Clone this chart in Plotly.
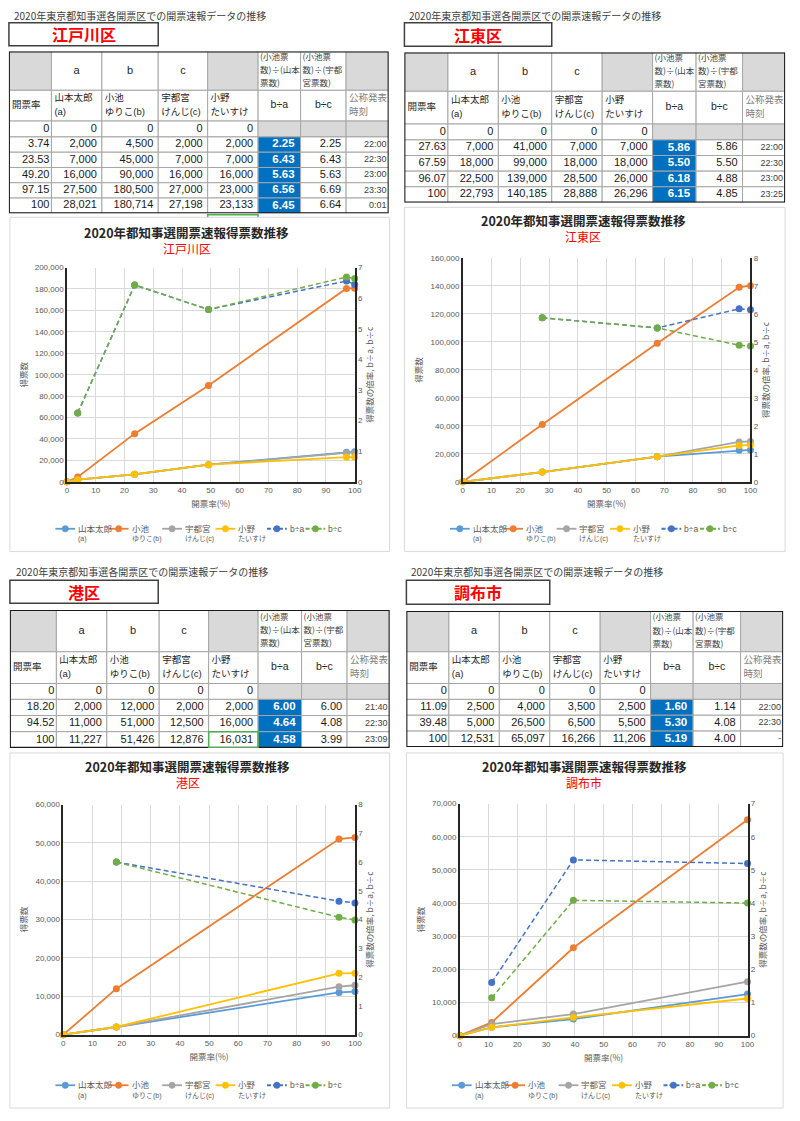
import plotly.graph_objects as go

W, H = 800, 1121
CJK = "Noto Sans CJK JP"
NUMF = "Liberation Sans, Noto Sans CJK JP"

# ---------------- text ----------------
PAGE_HEADER = "2020年東京都知事選各開票区での開票速報データの推移"
CHART_TITLE = "2020年都知事選開票速報得票数推移"
X_TITLE = "開票率(%)"
Y_TITLE = "得票数"
Y2_TITLE = "得票数の倍率, b÷a, b÷c"
SERIES_NAMES = ["山本太郎", "小池", "宇都宮", "小野", "b÷a", "b÷c"]
SERIES_SUBS = ["(a)", "ゆりこ(b)", "けんじ(c)", "たいすけ", "", ""]
TABLE_ROW1 = ["", "a", "b", "c", "", "(小池票<br>数)÷(山本<br>票数)", "(小池票<br>数)÷(宇都<br>宮票数)", ""]
TABLE_ROW2 = ["開票率", "山本太郎<br>(a)", "小池<br>ゆりこ(b)", "宇都宮<br>けんじ(c)", "小野<br>たいすけ", "b÷a", "b÷c", "公称発表<br>時刻"]

# ---------------- data ----------------
EDOGAWA_RATE = [0, 3.74, 23.53, 49.20, 97.15, 100]
EDOGAWA_YAMAMOTO = [0, 2000, 7000, 16000, 27500, 28021]
EDOGAWA_KOIKE = [0, 4500, 45000, 90000, 180500, 180714]
EDOGAWA_UTSUNOMIYA = [0, 2000, 7000, 16000, 27000, 27198]
EDOGAWA_ONO = [0, 2000, 7000, 16000, 23000, 23133]
EDOGAWA_B_DIV_A = [2.25, 6.43, 5.63, 6.56, 6.45]
EDOGAWA_B_DIV_C = [2.25, 6.43, 5.63, 6.69, 6.64]
EDOGAWA_TIME = ["22:00", "22:30", "23:00", "23:30", "0:01"]
EDOGAWA_AXES = (200000, 20000, 7)

KOTO_RATE = [0, 27.63, 67.59, 96.07, 100]
KOTO_YAMAMOTO = [0, 7000, 18000, 22500, 22793]
KOTO_KOIKE = [0, 41000, 99000, 139000, 140185]
KOTO_UTSUNOMIYA = [0, 7000, 18000, 28500, 28888]
KOTO_ONO = [0, 7000, 18000, 26000, 26296]
KOTO_B_DIV_A = [5.86, 5.50, 6.18, 6.15]
KOTO_B_DIV_C = [5.86, 5.50, 4.88, 4.85]
KOTO_TIME = ["22:00", "22:30", "23:00", "23:25"]
KOTO_AXES = (160000, 20000, 8)

MINATO_RATE = [0, 18.20, 94.52, 100]
MINATO_YAMAMOTO = [0, 2000, 11000, 11227]
MINATO_KOIKE = [0, 12000, 51000, 51426]
MINATO_UTSUNOMIYA = [0, 2000, 12500, 12876]
MINATO_ONO = [0, 2000, 16000, 16031]
MINATO_B_DIV_A = [6.00, 4.64, 4.58]
MINATO_B_DIV_C = [6.00, 4.08, 3.99]
MINATO_TIME = ["21:40", "22:30", "23:09"]
MINATO_AXES = (60000, 10000, 8)

CHOFU_RATE = [0, 11.09, 39.48, 100]
CHOFU_YAMAMOTO = [0, 2500, 5000, 12531]
CHOFU_KOIKE = [0, 4000, 26500, 65097]
CHOFU_UTSUNOMIYA = [0, 3500, 6500, 16266]
CHOFU_ONO = [0, 2500, 5500, 11206]
CHOFU_B_DIV_A = [1.60, 5.30, 5.19]
CHOFU_B_DIV_C = [1.14, 4.08, 4.00]
CHOFU_TIME = ["22:00", "22:30", "-"]
CHOFU_AXES = (70000, 10000, 7)

DATA = [
    dict(name="江戸川区", rate=EDOGAWA_RATE,
         votes=[EDOGAWA_YAMAMOTO, EDOGAWA_KOIKE, EDOGAWA_UTSUNOMIYA, EDOGAWA_ONO],
         ratios=[EDOGAWA_B_DIV_A, EDOGAWA_B_DIV_C], time=EDOGAWA_TIME, axes=EDOGAWA_AXES),
    dict(name="江東区", rate=KOTO_RATE,
         votes=[KOTO_YAMAMOTO, KOTO_KOIKE, KOTO_UTSUNOMIYA, KOTO_ONO],
         ratios=[KOTO_B_DIV_A, KOTO_B_DIV_C], time=KOTO_TIME, axes=KOTO_AXES),
    dict(name="港区", rate=MINATO_RATE,
         votes=[MINATO_YAMAMOTO, MINATO_KOIKE, MINATO_UTSUNOMIYA, MINATO_ONO],
         ratios=[MINATO_B_DIV_A, MINATO_B_DIV_C], time=MINATO_TIME, axes=MINATO_AXES),
    dict(name="調布市", rate=CHOFU_RATE,
         votes=[CHOFU_YAMAMOTO, CHOFU_KOIKE, CHOFU_UTSUNOMIYA, CHOFU_ONO],
         ratios=[CHOFU_B_DIV_A, CHOFU_B_DIV_C], time=CHOFU_TIME, axes=CHOFU_AXES),
]

# ---------------- layout geometry (pixels) ----------------
GEOM = [
    dict(header=(10, 11.7), tbox=(7, 19, 158, 42), cols=[7, 50, 101, 158, 208, 259, 302, 348, 391],
         top=48, h1=39, h2=31, h0=16, hd=15.4, sel="below",
         frame=(8, 215, 392, 552), plot=(65.7, 265.7, 356.7, 481.7), tx=187, ty=230, sy=246),
    dict(header=(410, 11.7), tbox=(407, 19, 556, 42.5), cols=[407, 451, 502, 556, 607, 658, 702, 749, 792],
         top=49, h1=39, h2=33, h0=16, hd=15.75, sel=None,
         frame=(407, 205, 792, 552), plot=(466, 256, 757, 481.7), tx=588, ty=218, sy=234),
    dict(header=(12, 571.7), tbox=(8, 581, 158, 604), cols=[8, 55, 106, 159, 209, 259, 303, 349, 392],
         top=611, h1=42, h2=32, h0=16, hd=16.3, sel="last",
         frame=(8, 755, 392, 1113), plot=(62, 807, 357, 1039), tx=188, ty=769, sy=785),
    dict(header=(412, 571.7), tbox=(409, 581, 554, 605), cols=[409, 452, 503, 554, 605, 656, 699, 747, 790],
         top=612, h1=41, h2=32, h0=16, hd=16, sel=None,
         frame=(409, 755, 790, 1113), plot=(463, 806, 754, 1040), tx=589, ty=769, sy=785),
]
LEGEND_OFFSETS = [46, 100, 154, 208, 260, 299]   # from frame left
COLORS = ["#5B9BD5", "#ED7D31", "#A5A5A5", "#FFC000", "#4472C4", "#70AD47"]
GRAY_FILL = "#D9D9D9"
BLUE_FILL = "#0070C0"
GRID = "#D9D9D9"
AXLINE = "#262626"
TXT = "#595959"


def px(x):
    return x / W


def py(y):
    return 1 - y / H


def axkey(letter, n):
    return f"{letter}axis" if n == 1 else f"{letter}axis{n}"


def axref(letter, n):
    return letter if n == 1 else f"{letter}{n}"


def fmt_rate(r):
    return str(int(r)) if float(r).is_integer() else f"{r:.2f}"


fig = go.Figure()
shapes, annotations, axes = [], [], {}

for k, (d, g) in enumerate(zip(DATA, GEOM)):
    xa, yl, yr = k + 1, 2 * k + 1, 2 * k + 2
    xt, yt = 5 + k, 9 + k

    # ---- page header & district box ----
    annotations.append(dict(text=PAGE_HEADER, x=px(g["header"][0]), y=py(g["header"][1]),
                            xref="paper", yref="paper", xanchor="left", yanchor="middle",
                            showarrow=False, font=dict(family=CJK, size=10, color="#404040")))
    bx0, by0, bx1, by1 = g["tbox"]
    shapes.append(dict(type="rect", xref="paper", yref="paper", x0=px(bx0), x1=px(bx1),
                       y0=py(by1), y1=py(by0), line=dict(color="#404040", width=1.5),
                       fillcolor="white", layer="below"))
    annotations.append(dict(text=f"<b>{d['name']}</b>", x=px((bx0 + bx1) / 2), y=py((by0 + by1) / 2),
                            xref="paper", yref="paper", xanchor="center", yanchor="middle",
                            showarrow=False, font=dict(family=CJK, size=16, color="#FF0000")))

    # ---- table ----
    ce = g["cols"]
    ndata = len(d["rate"]) - 1
    re_ = [g["top"], g["top"] + g["h1"], g["top"] + g["h1"] + g["h2"],
           g["top"] + g["h1"] + g["h2"] + g["h0"]]
    for i in range(ndata):
        re_.append(re_[-1] + g["hd"])
    xr, yrf = axref("x", xt), axref("y", yt)
    axes[axkey("x", xt)] = dict(domain=[px(ce[0]), px(ce[-1])], range=[ce[0], ce[-1]],
                                visible=False, anchor=yrf, fixedrange=True)
    axes[axkey("y", yt)] = dict(domain=[py(re_[-1]), py(re_[0])], range=[re_[-1], re_[0]],
                                visible=False, anchor=xr, fixedrange=True)

    rows = []  # each cell: (text, align, pad, size, color, family, linegap, fill)
    r1 = []
    for j, t in enumerate(TABLE_ROW1):
        fill = GRAY_FILL if j in (0, 4, 7) else "white"
        if j in (5, 6):
            r1.append((t, "left", 2, 8.5, "#404040", CJK, 13.3, fill))
        else:
            r1.append((t, "center", 0, 11, "#262626", NUMF, 0, fill))
    rows.append(r1)
    r2 = []
    for j, t in enumerate(TABLE_ROW2):
        if j in (5, 6):
            r2.append((t, "center", 0, 10.5, "#262626", NUMF, 15, "white"))
        elif j == 7:
            r2.append((t, "left", 3, 9.5, "#808080", CJK, 15, "white"))
        else:
            r2.append((t, "left", 3, 9.5, "#262626", NUMF, 15, "white"))
    rows.append(r2)
    r0 = [(fmt_rate(d["rate"][0]), "right", 2, 11, "#1a1a1a", NUMF, 0, "white")]
    for s in range(4):
        r0.append((f"{d['votes'][s][0]:,}", "right", 5, 11, "#1a1a1a", NUMF, 0, "white"))
    r0 += [("", "center", 0, 11, "#1a1a1a", NUMF, 0, GRAY_FILL)] * 3
    rows.append(r0)
    for i in range(1, ndata + 1):
        rr = [(fmt_rate(d["rate"][i]), "right", 2, 11, "#1a1a1a", NUMF, 0, "white")]
        for s in range(4):
            rr.append((f"{d['votes'][s][i]:,}", "right", 5, 11, "#1a1a1a", NUMF, 0, "white"))
        rr.append((f"<b>{d['ratios'][0][i - 1]:.2f}</b>", "right", 6, 11.5, "white", NUMF, 0, BLUE_FILL))
        rr.append((f"{d['ratios'][1][i - 1]:.2f}", "right", 5, 11, "#1a1a1a", NUMF, 0, "white"))
        rr.append((d["time"][i - 1], "right", 2, 9, "#404040", NUMF, 0, "white"))
        rows.append(rr)

    tx_, ty_, tt, tp, ts, tc, tf = [], [], [], [], [], [], []
    for i, row in enumerate(rows):
        for j, (t, al, pad, sz, col, fam, gap, fill) in enumerate(row):
            shapes.append(dict(type="rect", xref=xr, yref=yrf, x0=ce[j], x1=ce[j + 1],
                               y0=re_[i], y1=re_[i + 1], fillcolor=fill,
                               line=dict(color="#A6A6A6", width=1), layer="below"))
            if not t:
                continue
            lines = t.split("<br>")
            yc = (re_[i] + re_[i + 1]) / 2
            for li, line in enumerate(lines):
                yy = yc + (li - (len(lines) - 1) / 2) * gap
                if al == "right":
                    xx, pos = ce[j + 1] - pad, "middle left"
                elif al == "left":
                    xx, pos = ce[j] + pad, "middle right"
                else:
                    xx, pos = (ce[j] + ce[j + 1]) / 2, "middle center"
                tx_.append(xx); ty_.append(yy); tt.append(line); tp.append(pos)
                ts.append(sz); tc.append(col); tf.append(fam)
    fig.add_trace(go.Scatter(x=tx_, y=ty_, text=tt, mode="text", textposition=tp,
                             textfont=dict(size=ts, color=tc, family=tf), xaxis=xr, yaxis=yrf,
                             hoverinfo="skip", showlegend=False, cliponaxis=False))
    shapes.append(dict(type="rect", xref=xr, yref=yrf, x0=ce[0], x1=ce[-1], y0=re_[0], y1=re_[-1],
                       line=dict(color="#1a1a1a", width=2), layer="above"))
    if g["sel"] == "last":
        shapes.append(dict(type="rect", xref=xr, yref=yrf, x0=ce[4], x1=ce[5], y0=re_[-2], y1=re_[-1],
                           line=dict(color="#4CAF50", width=1.5), layer="above"))
    elif g["sel"] == "below":
        shapes.append(dict(type="rect", xref="paper", yref="paper", x0=px(ce[4]), x1=px(ce[5]),
                           y0=py(re_[-1] + 18), y1=py(re_[-1] + 1.5),
                           line=dict(color="#4CAF50", width=1.5), layer="below"))

    # ---- chart frame & titles ----
    fx0, fy0, fx1, fy1 = g["frame"]
    shapes.append(dict(type="rect", xref="paper", yref="paper", x0=px(fx0), x1=px(fx1),
                       y0=py(fy1), y1=py(fy0), line=dict(color="#D9D9D9", width=1),
                       fillcolor="white", layer="below"))
    annotations.append(dict(text=f"<b>{CHART_TITLE}</b>", x=px(g["tx"]), y=py(g["ty"]),
                            xref="paper", yref="paper", xanchor="center", yanchor="middle",
                            showarrow=False, font=dict(family=CJK, size=12.5, color="#262626")))
    annotations.append(dict(text=d["name"], x=px(g["tx"]), y=py(g["sy"]),
                            xref="paper", yref="paper", xanchor="center", yanchor="middle",
                            showarrow=False, font=dict(family=CJK, size=12, color="#FF0000")))

    # ---- chart traces ----
    xref_c, yl_ref, yr_ref = axref("x", xa), axref("y", yl), axref("y", yr)
    for s in range(4):
        fig.add_trace(go.Scatter(x=d["rate"], y=d["votes"][s], mode="lines+markers",
                                 name=SERIES_NAMES[s], line=dict(color=COLORS[s], width=1.8),
                                 marker=dict(size=7, color=COLORS[s]), xaxis=xref_c, yaxis=yl_ref,
                                 cliponaxis=False, showlegend=False))
    for r in range(2):
        fig.add_trace(go.Scatter(x=d["rate"][1:], y=d["ratios"][r], mode="lines+markers",
                                 name=SERIES_NAMES[4 + r],
                                 line=dict(color=COLORS[4 + r], width=1.5, dash="5px,3px"),
                                 marker=dict(size=7, color=COLORS[4 + r]), xaxis=xref_c, yaxis=yr_ref,
                                 cliponaxis=False, showlegend=False))

    pl, pt, pr, pb = g["plot"]
    ymax, ydt, y2max = d["axes"]
    tickfont = dict(family=NUMF, size=8, color=TXT)
    titlefont = dict(family=CJK, size=8.5, color=TXT)
    axes[axkey("x", xa)] = dict(domain=[px(pl), px(pr)], anchor=yl_ref, range=[0, 100], tick0=0, dtick=10,
                                showgrid=True, gridcolor=GRID, gridwidth=1, showline=True,
                                linecolor=AXLINE, linewidth=1.5, zeroline=False, ticks="",
                                tickfont=tickfont, title=dict(text=X_TITLE, font=titlefont, standoff=7),
                                fixedrange=True)
    axes[axkey("y", yl)] = dict(domain=[py(pb), py(pt)], anchor=xref_c, range=[0, ymax], tick0=0, dtick=ydt,
                                tickformat=",d", showgrid=True, gridcolor=GRID, gridwidth=1,
                                showline=True, linecolor=AXLINE, linewidth=1.5, zeroline=False,
                                ticks="", tickfont=tickfont,
                                title=dict(text=Y_TITLE, font=titlefont, standoff=6),
                                fixedrange=True)
    axes[axkey("y", yr)] = dict(overlaying=yl_ref, side="right", anchor=xref_c, range=[0, y2max],
                                tick0=0, dtick=1, showgrid=False, showline=True, linecolor=AXLINE,
                                linewidth=1.5, zeroline=False, ticks="", tickfont=tickfont,
                                title=dict(text=Y2_TITLE, font=titlefont, standoff=4), fixedrange=True)

    # ---- legend (drawn beneath the chart) ----
    ly = fy1 - 23
    for s in range(6):
        sx = fx0 + LEGEND_OFFSETS[s]
        shapes.append(dict(type="line", xref="paper", yref="paper", x0=px(sx), x1=px(sx + 20),
                           y0=py(ly), y1=py(ly),
                           line=dict(color=COLORS[s], width=1.8, dash="solid" if s < 4 else "4px,2px"),
                           layer="above"))
        shapes.append(dict(type="circle", xref="paper", yref="paper", x0=px(sx + 6.8), x1=px(sx + 13.2),
                           y0=py(ly + 3.2), y1=py(ly - 3.2), fillcolor=COLORS[s],
                           line=dict(color=COLORS[s], width=0.5), layer="above"))
        annotations.append(dict(text=SERIES_NAMES[s], x=px(sx + 21), y=py(ly), xref="paper", yref="paper",
                                xanchor="left", yanchor="middle", showarrow=False,
                                font=dict(family=NUMF, size=8.5, color=TXT)))
        if SERIES_SUBS[s]:
            annotations.append(dict(text=SERIES_SUBS[s], x=px(sx + 21), y=py(ly + 10.5), xref="paper",
                                    yref="paper", xanchor="left", yanchor="middle", showarrow=False,
                                    font=dict(family=NUMF, size=7, color=TXT)))

fig.update_layout(width=W, height=H, margin=dict(l=0, r=0, t=0, b=0),
                  paper_bgcolor="white", plot_bgcolor="rgba(0,0,0,0)", showlegend=False,
                  font=dict(family=CJK), shapes=shapes, annotations=annotations, **axes)
fig.write_html("out.html")
